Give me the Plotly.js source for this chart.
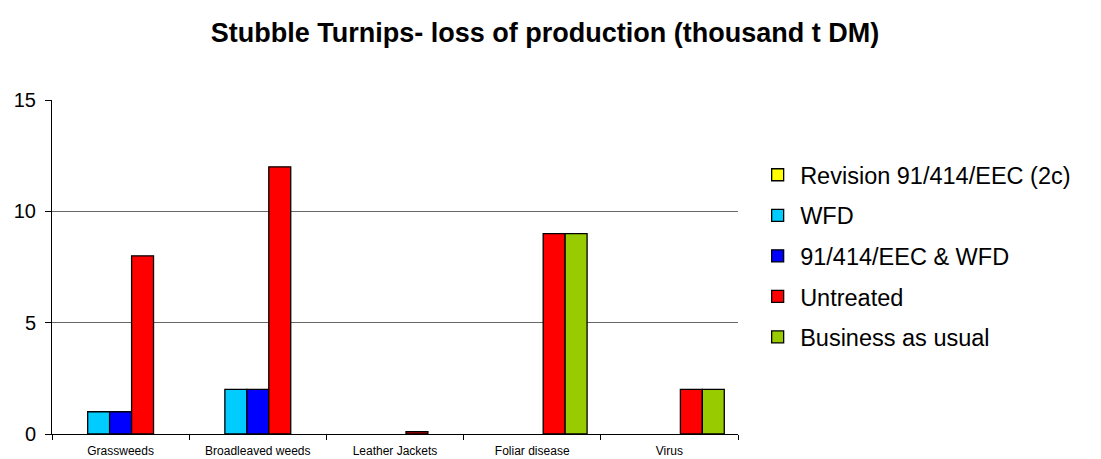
<!DOCTYPE html>
<html>
<head>
<meta charset="utf-8">
<script src="https://cdn.plot.ly/plotly-3.0.1.min.js"></script>
<style>html,body{margin:0;padding:0;background:#fff;}#chart{width:1101px;height:459px;}</style>
</head>
<body>
<div id="chart"></div>
<script>
const categories = ["Grassweeds", "Broadleaved weeds", "Leather Jackets", "Foliar disease", "Virus"];
const seriesNames = ["Revision 91/414/EEC (2c)", "WFD", "91/414/EEC & WFD", "Untreated", "Business as usual"];
const revision = [0, 0, 0, 0, 0];
const wfd = [1, 2, 0, 0, 0];
const eecWfd = [1, 2, 0, 0, 0];
const untreated = [8, 12, 0.1, 9, 2];
const businessAsUsual = [0, 0, 0, 9, 2];
const colors = ["#FFFF00", "#00CCFF", "#0000FF", "#FF0000", "#99CC00"];
const yTicks = [0, 5, 10, 15];

const values = [revision, wfd, eecWfd, untreated, businessAsUsual];
const traces = values.map((v, i) => ({
  type: "bar",
  name: seriesNames[i],
  x: categories,
  y: v.map(d => d === 0 ? null : d),
  legendgroup: "g" + i,
  marker: {color: colors[i], line: {color: "#000", width: 1.3}},
  hoverinfo: "x+y+name"
}));

const layout = {
  width: 1101, height: 459,
  margin: {l: 52, r: 363, t: 100, b: 25},
  paper_bgcolor: "#fff", plot_bgcolor: "#fff",
  font: {family: "Arial, Liberation Sans, sans-serif", color: "#000"},
  title: {text: "<b>Stubble Turnips- loss of production (thousand t DM)</b>", x: 0.495, xanchor: "center", y: 0.93, yanchor: "middle", font: {size: 27, color: "#000"}},
  barmode: "group",
  bargap: 0.2,
  bargroupgap: 0,
  xaxis: {
    type: "category",
    showline: true, linecolor: "#000", linewidth: 1,
    ticks: "outside", tickson: "boundaries", ticklen: 5, tickcolor: "#000",
    tickfont: {size: 12, color: "#000"},
    ticklabelstandoff: 6,
    showgrid: false, zeroline: false
  },
  yaxis: {
    range: [0, 15],
    tickvals: yTicks,
    ticktext: yTicks.map(String),
    showline: true, linecolor: "#000", linewidth: 1,
    ticks: "outside", ticklen: 6, tickcolor: "#000",
    tickfont: {size: 20, color: "#000"},
    ticklabelstandoff: 5,
    showgrid: true, gridcolor: "#000", gridwidth: 0.6,
    zeroline: false
  },
  legend: {
    x: 1.025, xanchor: "left", y: 0.533, yanchor: "middle",
    font: {size: 23.5, color: "#000"},
    tracegroupgap: 7,
    itemwidth: 35,
    itemclick: false
  },
  showlegend: true
};

Plotly.newPlot("chart", traces, layout, {displayModeBar: false, staticPlot: true});
</script>
</body>
</html>
